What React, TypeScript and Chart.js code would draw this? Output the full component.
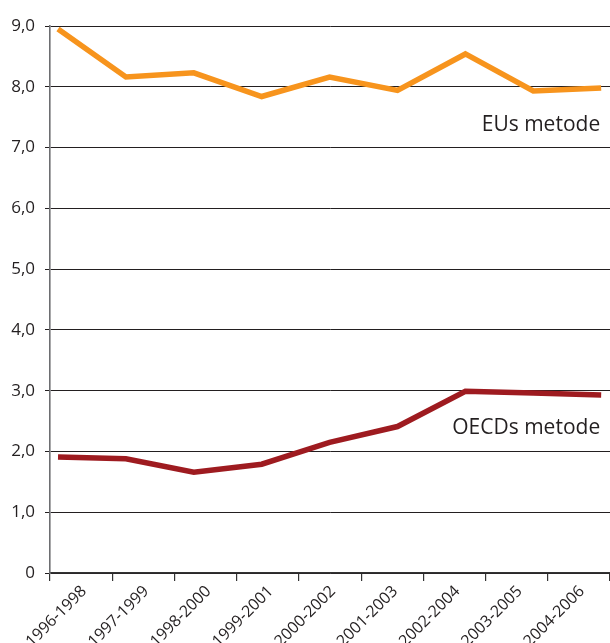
import React, { useEffect, useRef } from "react";
import { Chart, registerables } from "chart.js";

Chart.register(...registerables);

const categories = [
  "1996-1998",
  "1997-1999",
  "1998-2000",
  "1999-2001",
  "2000-2002",
  "2001-2003",
  "2002-2004",
  "2003-2005",
  "2004-2006",
];

const euValues = [8.95, 8.16, 8.23, 7.84, 8.16, 7.94, 8.54, 7.93, 7.98];
const oecdValues = [1.91, 1.88, 1.66, 1.79, 2.15, 2.41, 2.99, 2.96, 2.93];

const yTickLabels = ["0", "1,0", "2,0", "3,0", "4,0", "5,0", "6,0", "7,0", "8,0", "9,0"];

const seriesNames = ["EUs metode", "OECDs metode"];
const seriesColors = ["#f7941d", "#9e1b20"];

// text labels placed via scale values: [category index, y value]
const annotationAnchors = [
  { text: seriesNames[0], x: 8, y: 7.27 },
  { text: seriesNames[1], x: 8, y: 2.28 },
];

const FONT = "'Open Sans', 'DejaVu Sans', sans-serif";
const TEXT_COLOR = "#231f20";

export default function App() {
  const ref = useRef<HTMLCanvasElement | null>(null);

  useEffect(() => {
    if (!ref.current) return;

    const annotationPlugin = {
      id: "inlineLabels",
      afterDatasetsDraw(chart: any) {
        const ctx = chart.ctx;
        const xs = chart.scales.x;
        const ys = chart.scales.y;
        ctx.save();
        ctx.font = `21px ${FONT}`;
        ctx.fillStyle = TEXT_COLOR;
        ctx.textAlign = "right";
        ctx.textBaseline = "alphabetic";
        for (const a of annotationAnchors) {
          ctx.fillText(a.text, xs.getPixelForValue(a.x) - 1, ys.getPixelForValue(a.y));
        }
        ctx.restore();
      },
    };

    const chart = new Chart(ref.current, {
      type: "line",
      data: {
        labels: categories,
        datasets: [
          {
            label: seriesNames[0],
            data: euValues.map((v, i) => ({ x: i, y: v })),
            borderColor: seriesColors[0],
            backgroundColor: seriesColors[0],
            borderWidth: 5.5,
            pointRadius: 0,
            tension: 0,
            borderJoinStyle: "miter",
            borderCapStyle: "butt",
            xAxisID: "x",
            yAxisID: "y",
          },
          {
            label: seriesNames[1],
            data: oecdValues.map((v, i) => ({ x: i, y: v })),
            borderColor: seriesColors[1],
            backgroundColor: seriesColors[1],
            borderWidth: 5.5,
            pointRadius: 0,
            tension: 0,
            borderJoinStyle: "miter",
            borderCapStyle: "butt",
            xAxisID: "x",
            yAxisID: "y",
          },
        ],
      },
      options: {
        responsive: false,
        animation: false,
        events: [],
        layout: { padding: { top: 26, right: 0, left: 0, bottom: 0 } },
        plugins: {
          legend: { display: false },
          tooltip: { enabled: false },
        },
        scales: {
          x: {
            type: "linear",
            display: false,
            min: -0.118,
            max: 8.13,
          },
          xc: {
            type: "category",
            axis: "x",
            position: "bottom",
            labels: categories,
            offset: true,
            grid: {
              offset: true,
              drawOnChartArea: false,
              drawTicks: true,
              tickLength: 8,
              color: "#333333",
              lineWidth: 1.2,
            },
            border: { display: true, color: "#333333", width: 1.5 },
            ticks: {
              autoSkip: false,
              minRotation: 45,
              maxRotation: 45,
              padding: 1,
              labelOffset: 3,
              color: TEXT_COLOR,
              font: { family: FONT, size: 16 },
            },
            afterFit(scale: any) {
              scale.height = 70;
              scale.paddingLeft = 0;
              scale.paddingRight = 0;
            },
          },
          y: {
            type: "linear",
            position: "left",
            min: 0,
            max: 9,
            ticks: {
              stepSize: 1,
              padding: 10,
              color: TEXT_COLOR,
              font: { family: FONT, size: 17 },
              callback: (_v: any, index: number) => yTickLabels[index],
            },
            grid: {
              color: "#231f20",
              lineWidth: 1,
              tickLength: 5,
              drawTicks: true,
            },
            border: { display: true, color: "#6d6e71", width: 1.6 },
            afterFit(scale: any) {
              scale.width = 50;
            },
          },
        },
      },
      plugins: [annotationPlugin],
    } as any);

    return () => chart.destroy();
  }, []);

  return (
    <div style={{ position: "absolute", left: 0, top: 0, width: 610, height: 643 }}>
      <canvas ref={ref} width={610} height={643} style={{ display: "block", width: 610, height: 643 }} />
    </div>
  );
}
